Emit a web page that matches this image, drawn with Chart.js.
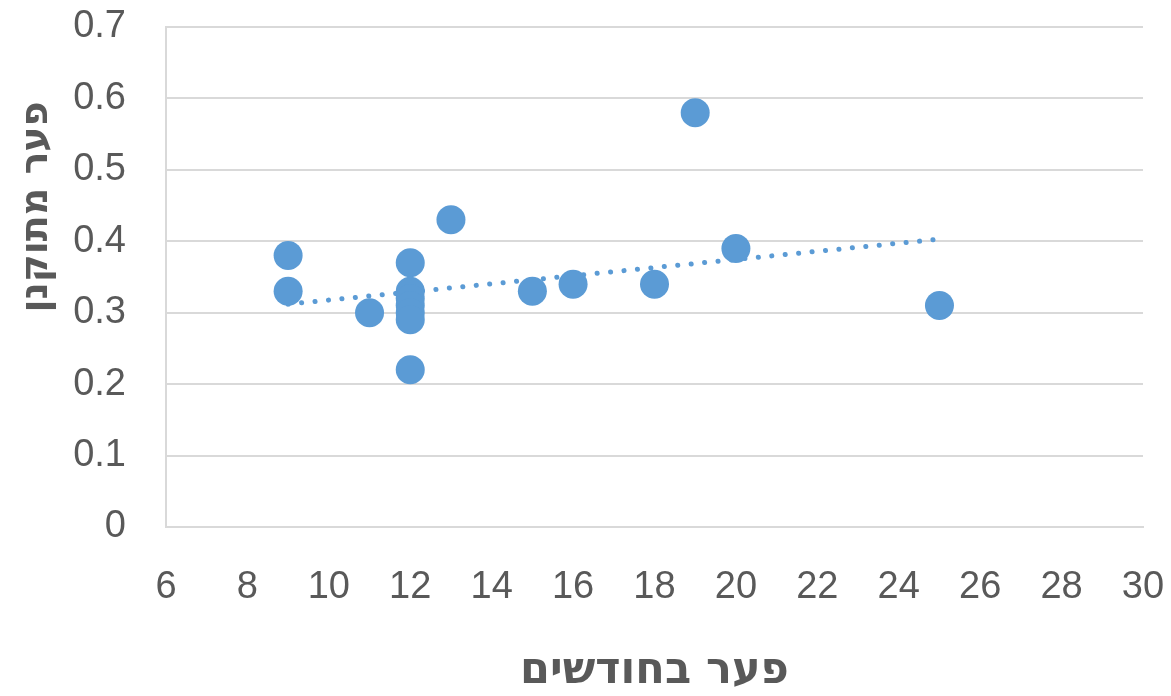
<!DOCTYPE html>
<html>
<head>
<meta charset="utf-8">
<script src="https://cdn.jsdelivr.net/npm/chart.js@4/dist/chart.umd.min.js"></script>
<style>
html,body{margin:0;padding:0;background:#fff;}
#wrap{width:1171px;height:696px;}
</style>
</head>
<body>
<div id="wrap"><canvas id="c" width="1171" height="696"></canvas></div>
<script>
const xMonths = [9, 9, 11, 12, 12, 12, 12, 12, 12, 12, 13, 15, 16, 18, 19, 20, 25];
const yGap = [0.38, 0.33, 0.30, 0.37, 0.33, 0.32, 0.31, 0.30, 0.29, 0.22, 0.43, 0.33, 0.34, 0.34, 0.58, 0.39, 0.31];
const trendX = [9, 25];
const trendY = [0.312, 0.403];
const yTickLabels = ['0', '0.1', '0.2', '0.3', '0.4', '0.5', '0.6', '0.7'];
const xTickLabels = ['6', '8', '10', '12', '14', '16', '18', '20', '22', '24', '26', '28', '30'];
const xTitle = 'פער בחודשים';
const yTitle = 'פער מתוקנן';

const blue = '#5B9BD5';
const grey = '#595959';

const titlePlugin = {
  id: 'axisTitles',
  afterDraw(chart) {
    const ctx = chart.ctx;
    const a = chart.chartArea;
    ctx.save();
    ctx.fillStyle = grey;
    ctx.textAlign = 'center';
    ctx.textBaseline = 'middle';
    ctx.font = 'bold 43px "DejaVu Sans"';
    ctx.fillText(xTitle, (a.left + a.right) / 2, 672);
    ctx.font = 'bold 38px "DejaVu Sans"';
    ctx.translate(37, 207);
    ctx.rotate(-Math.PI / 2);
    ctx.fillText(yTitle, 0, 0);
    ctx.restore();
  }
};

new Chart(document.getElementById('c'), {
  type: 'scatter',
  data: {
    datasets: [
      {
        data: xMonths.map((x, i) => ({x: x, y: yGap[i]})),
        backgroundColor: blue,
        borderColor: blue,
        pointRadius: 14.5,
        pointHoverRadius: 14.5,
        borderWidth: 0,
        order: 0
      },
      {
        type: 'line',
        data: trendX.map((x, i) => ({x: x, y: trendY[i]})),
        borderColor: blue,
        borderWidth: 5,
        borderDash: [0.1, 13.4],
        borderCapStyle: 'round',
        pointRadius: 0,
        fill: false,
        order: 1
      }
    ]
  },
  options: {
    responsive: false,
    animation: false,
    layout: {padding: {top: 27, right: 28, left: 0, bottom: 0}},
    plugins: {legend: {display: false}, tooltip: {enabled: false}},
    scales: {
      x: {
        type: 'linear',
        min: 6, max: 30,
        afterFit(s) { s.height = 169; s.paddingLeft = 0; s.paddingRight = 0; },
        ticks: {
          stepSize: 2,
          color: grey,
          font: {family: '"Liberation Sans"', size: 38},
          padding: 38,
          callback: (v, i) => xTickLabels[i]
        },
        grid: {display: false, drawTicks: false},
        border: {display: true, color: '#d9d9d9', width: 2}
      },
      y: {
        min: 0, max: 0.7,
        afterFit(s) { s.width = 166; s.paddingTop = 0; s.paddingBottom = 0; },
        ticks: {
          stepSize: 0.1,
          color: grey,
          font: {family: '"Liberation Sans"', size: 38},
          padding: 40,
          callback: (v, i) => yTickLabels[i]
        },
        grid: {color: '#d9d9d9', lineWidth: 2, drawTicks: false},
        border: {display: true, color: '#d9d9d9', width: 2}
      }
    }
  },
  plugins: [titlePlugin]
});
</script>
</body>
</html>
